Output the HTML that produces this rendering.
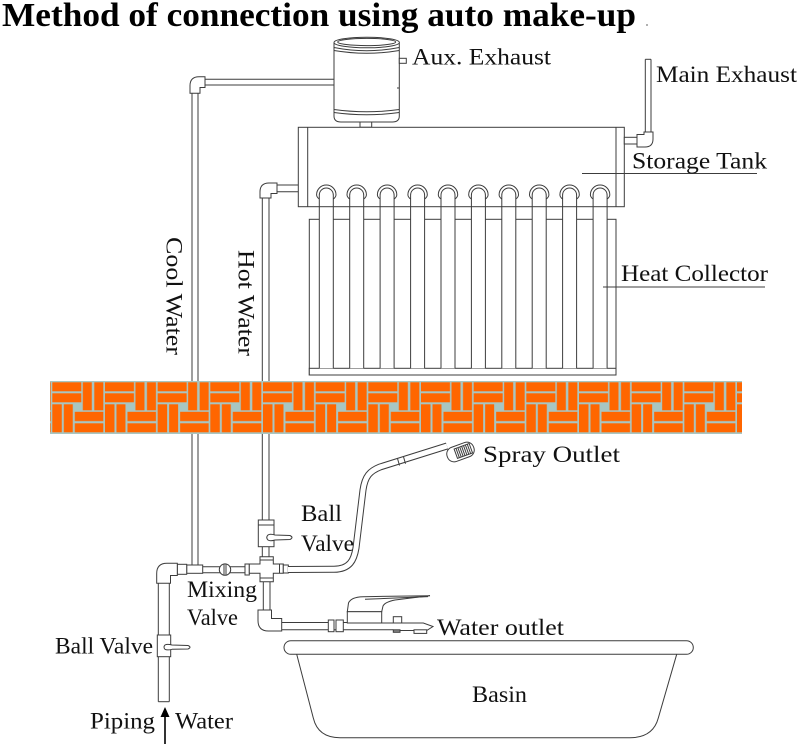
<!DOCTYPE html>
<html><head><meta charset="utf-8">
<style>
html,body{margin:0;padding:0;background:#fff}
svg{display:block}
text{font-family:"Liberation Serif","DejaVu Serif",serif;}
</style>
</head>
<body>
<svg width="800" height="745" viewBox="0 0 800 745" xmlns="http://www.w3.org/2000/svg">
<defs>
<pattern id="bricks" patternUnits="userSpaceOnUse" x="52.3" y="382.3" width="52.67" height="60">
<g fill="#ff6600">
<rect x="0" y="0" width="29" height="9"/>
<rect x="0" y="11" width="29" height="9"/>
<rect x="30.5" y="0" width="9" height="28"/>
<rect x="42" y="0" width="9" height="28"/>
<rect x="0" y="22" width="9.5" height="28"/>
<rect x="11.5" y="22" width="9" height="28"/>
<rect x="22.5" y="29.5" width="28.5" height="9.3"/>
<rect x="22.5" y="41" width="28.5" height="9"/>
</g>
</pattern>
<g id="tube">
<rect x="0" y="208" width="14" height="160.3" fill="#fff" stroke="none"/>
<line x1="0" y1="194.7" x2="0" y2="368.3"/>
<line x1="14" y1="194.7" x2="14" y2="368.3"/>
<path d="M0,195 A7,7 0 0 1 14,195" fill="none"/>
<path d="M0,199 Q-2.7,197 -2.7,194.7 A9.7,9.7 0 0 1 16.7,194.7 Q16.7,197 14,199" fill="none"/>
</g>
</defs>
<rect width="800" height="745" fill="#fff"/>

<!-- Title -->
<text x="2" y="26" style="font-family:'Liberation Serif','DejaVu Serif',serif;font-weight:bold;font-size:34px" fill="#000" textLength="634" lengthAdjust="spacingAndGlyphs">Method of connection using auto make-up</text>
<circle cx="647" cy="25" r="1" fill="#999"/>

<g stroke="#3c3c3c" stroke-width="1" fill="none">
<!-- Aux tank -->
<path d="M334,43 L334,116 Q334,122 341,122 L392.3,122 Q399.3,122 399.3,116 L399.3,43" fill="#fff"/>
<ellipse cx="366.7" cy="42.5" rx="32.7" ry="5.3" fill="#fff"/>
<ellipse cx="366.7" cy="42" rx="29" ry="3.6"/>
<path d="M334,47.5 Q366.7,54 399.3,47.5"/>
<path d="M334,50.5 Q366.7,56 399.3,50.5"/>
<path d="M334,109.5 Q366.7,114 399.3,109.5"/>
<path d="M334,112.5 Q366.7,117 399.3,112.5"/>
<rect x="360" y="122" width="11.7" height="5.3" fill="#fff"/>
<rect x="399.3" y="58.3" width="7" height="5" fill="#fff"/>
<line x1="397" y1="88" x2="399" y2="88"/>

<!-- Cool water top pipe -->
<line x1="205" y1="79.3" x2="334" y2="79.3"/>
<line x1="205" y1="85" x2="334" y2="85"/>
<path d="M205,76.7 L199,76.7 Q190,76.7 190,85.7 L190,93.3 L200,93.3 L200,87.5 L205,87.5 Z" fill="#fff"/>
<line x1="192" y1="93.3" x2="192" y2="565"/>
<line x1="198" y1="93.3" x2="198" y2="565"/>

<!-- Storage tank -->
<rect x="298.3" y="127.3" width="326" height="79.4" fill="#fff"/>
<line x1="307.7" y1="127.3" x2="307.7" y2="206.7"/>
<line x1="616" y1="127.3" x2="616" y2="206.7"/>

<!-- Hot water -->
<line x1="277" y1="185" x2="298.3" y2="185"/>
<line x1="277" y1="191.7" x2="298.3" y2="191.7"/>
<path d="M277,183 L269,183 Q260,183 260,192 L260,198 L271,198 L271,193.5 L277,193.5 Z" fill="#fff"/>
<line x1="262.3" y1="198" x2="262.3" y2="520"/>
<line x1="269" y1="198" x2="269" y2="520"/>

<!-- Main exhaust -->
<rect x="624.3" y="137.3" width="12.7" height="6.7" fill="#fff"/>
<path d="M637,134.5 L644,134.5 L644,132 L653,132 L653,139 Q653,147 645,147 L637,147 Z" fill="#fff"/>
<line x1="645.3" y1="59.3" x2="645.3" y2="132"/>
<line x1="651" y1="59.3" x2="651" y2="132"/>
<line x1="645.3" y1="59.3" x2="651" y2="59.3"/>

<!-- Heat collector -->
<rect x="309.3" y="219.3" width="306.7" height="155.7" fill="#fff"/>
<rect x="309.3" y="368.3" width="306.7" height="6.7" fill="#fff"/>
<use href="#tube" x="319.3"/>
<use href="#tube" x="349.7"/>
<use href="#tube" x="380.1"/>
<use href="#tube" x="410.6"/>
<use href="#tube" x="441.0"/>
<use href="#tube" x="471.4"/>
<use href="#tube" x="501.8"/>
<use href="#tube" x="532.2"/>
<use href="#tube" x="562.6"/>
<use href="#tube" x="593.1"/>

<!-- Label underlines -->
<line x1="582" y1="173.5" x2="757" y2="173.5"/>
<line x1="603" y1="287" x2="765" y2="287"/>

<!-- Lower pipes: cool water -->
<rect x="186.7" y="565" width="16" height="8.3" fill="#fff"/>
<line x1="202.7" y1="566.7" x2="245" y2="566.7"/>
<line x1="202.7" y1="572.7" x2="245" y2="572.7"/>
<rect x="177.3" y="564.3" width="9.4" height="10" fill="#fff"/>
<path d="M177.3,563.3 L167,563.3 Q156.7,563.3 156.7,573.6 L156.7,583.3 L170.5,583.3 L170.5,575.5 L177.3,575.5 Z" fill="#fff"/>
<circle cx="225" cy="569.6" r="5.7" fill="#fff"/>
<line x1="224" y1="564" x2="224" y2="575.2"/>
<line x1="226" y1="564" x2="226" y2="575.2"/>
<rect x="245" y="564" width="4.3" height="11" fill="#fff"/>
<!-- lower-left vertical + valve -->
<line x1="158.3" y1="583.3" x2="158.3" y2="701.7"/>
<line x1="169.3" y1="583.3" x2="169.3" y2="701.7"/>
<line x1="158.3" y1="701.7" x2="169.3" y2="701.7"/>
<rect x="157.3" y="635" width="13.4" height="21.7" fill="#fff"/>
<path d="M165,645 Q167,643.8 172,645 L188,645.5 Q192,647.2 188,649 L172,649.3 Q167,650.5 165,649.3 Q163,647.2 165,645 Z" fill="#fff"/>

<!-- Upper ball valve and cross -->
<rect x="258.3" y="520" width="15.7" height="26.7" fill="#fff"/>
<line x1="258.3" y1="525" x2="274" y2="525"/>
<path d="M268,535 Q270,533.5 275,535 L290,535.5 Q294,537.5 290,539.5 L275,540 Q270,541.5 268,540 Q265.5,537.5 268,535 Z" fill="#fff"/>
<line x1="262.3" y1="546.7" x2="262.3" y2="556.7"/>
<line x1="269" y1="546.7" x2="269" y2="556.7"/>
<path d="M260,556.7 H273.3 V564 H283.3 V573.3 H273.3 V581.7 H260 V573.3 H249.3 V564 H260 Z" fill="#fff"/>
<line x1="260" y1="560" x2="273.3" y2="560"/>
<line x1="279.5" y1="564" x2="279.5" y2="573.3"/>
<line x1="260" y1="578" x2="273.3" y2="578"/>
<rect x="283.3" y="565" width="5" height="8" fill="#fff"/>
<line x1="263.3" y1="581.7" x2="263.3" y2="610"/>
<line x1="270" y1="581.7" x2="270" y2="610"/>
<path d="M258,610 L271.5,610 L271.5,618.5 L281.7,618.5 L281.7,631 L268.5,631 Q258,631 258,620.5 Z" fill="#fff"/>
<line x1="281.7" y1="622.5" x2="328.3" y2="622.5"/>
<line x1="281.7" y1="629.8" x2="393.3" y2="629.8"/>
<rect x="328.3" y="620" width="5.7" height="11.7" fill="#fff"/>
<rect x="336" y="620" width="7.3" height="11.7" fill="#fff"/>
<line x1="343.3" y1="622.5" x2="347.3" y2="622.5"/>

<!-- Faucet -->
<path d="M347.3,611.7 L348.5,603 Q351,597 363,596.7 L430,595.7 Q410,598 395,600 Q385,602 383,606 L381.7,611.7 Z" fill="#fff"/>
<line x1="365" y1="599.3" x2="428" y2="596.6"/>
<rect x="347.3" y="611.7" width="34.4" height="11.3" fill="#fff"/>
<path d="M381.7,623 L423.3,623 L433,626.5 L426.7,630.5 L400,630.5"/>
<rect x="393.3" y="616.7" width="8.4" height="6.3" fill="#fff"/>
<rect x="393.3" y="629.8" width="6.7" height="2.5" fill="#888"/>
<rect x="414" y="629.8" width="12.7" height="3.6" fill="#fff"/>
</g>

<!-- Spray hose -->
<path d="M288,569.5 L334,569.3 C350,569 354,560 356,548 L363,490 C365,476 370,471 380,467 L447,446" fill="none" stroke="#3c3c3c" stroke-width="7"/>
<path d="M288,569.5 L334,569.3 C350,569 354,560 356,548 L363,490 C365,476 370,471 380,467 L447,446" fill="none" stroke="#fff" stroke-width="5"/>
<g stroke="#3c3c3c" stroke-width="1" fill="none">
<line x1="397.5" y1="458.5" x2="399.5" y2="465.5"/>
<line x1="403.5" y1="456.7" x2="405.5" y2="463.7"/>
<g transform="translate(460.5,452) rotate(-20)">
<rect x="-14" y="-7.5" width="28" height="15" rx="7" fill="#fff"/>
<rect x="-5" y="-5" width="16" height="10" fill="#fff"/>
<line x1="-3" y1="-5" x2="-3" y2="5"/>
<line x1="-1" y1="-5" x2="-1" y2="5"/>
<line x1="1" y1="-5" x2="1" y2="5"/>
<line x1="3" y1="-5" x2="3" y2="5"/>
<line x1="5" y1="-5" x2="5" y2="5"/>
<line x1="7" y1="-5" x2="7" y2="5"/>
<line x1="9" y1="-5" x2="9" y2="5"/>
</g>
</g>

<!-- Basin -->
<g stroke="#3c3c3c" stroke-width="1" fill="#fff">
<path d="M296.7,654.3 L313.3,718 Q318,737.7 340,737.7 L630,737.7 Q653,737.7 658.3,718 L676.7,654.3"/>
<rect x="284" y="640.7" width="409.3" height="13.6" rx="6.8"/>
</g>

<!-- Brick wall -->
<rect x="50" y="381" width="692" height="53" fill="#a8c6c2"/>
<rect x="50" y="381" width="692" height="53" fill="url(#bricks)"/>

<!-- Arrow -->
<line x1="165" y1="744" x2="165" y2="714" stroke="#000" stroke-width="1.6"/>
<polygon points="165,707 160.5,717 169.5,717" fill="#000"/>

<!-- Labels -->
<g style="font-family:'Liberation Serif','DejaVu Serif',serif;font-size:23px" fill="#111">
<text x="412" y="64.5" textLength="139" lengthAdjust="spacingAndGlyphs">Aux. Exhaust</text>
<text x="656" y="82" textLength="141" lengthAdjust="spacingAndGlyphs">Main Exhaust</text>
<text x="632" y="168.5" textLength="135" lengthAdjust="spacingAndGlyphs">Storage Tank</text>
<text x="621" y="281" textLength="147" lengthAdjust="spacingAndGlyphs">Heat Collector</text>
<text transform="translate(166.5,237) rotate(90)" textLength="118" lengthAdjust="spacingAndGlyphs">Cool Water</text>
<text transform="translate(238.5,250) rotate(90)" textLength="106" lengthAdjust="spacingAndGlyphs">Hot Water</text>
<text x="483" y="462" textLength="137" lengthAdjust="spacingAndGlyphs">Spray Outlet</text>
<text x="301" y="521" textLength="41" lengthAdjust="spacingAndGlyphs">Ball</text>
<text x="301" y="551" textLength="53" lengthAdjust="spacingAndGlyphs">Valve</text>
<text x="187" y="597" textLength="70" lengthAdjust="spacingAndGlyphs">Mixing</text>
<text x="187" y="625" textLength="51" lengthAdjust="spacingAndGlyphs">Valve</text>
<text x="437" y="635" textLength="127" lengthAdjust="spacingAndGlyphs">Water outlet</text>
<text x="55" y="653.5" textLength="98" lengthAdjust="spacingAndGlyphs">Ball Valve</text>
<text x="472" y="702" textLength="55" lengthAdjust="spacingAndGlyphs">Basin</text>
<text x="90" y="728.5" textLength="65" lengthAdjust="spacingAndGlyphs">Piping</text>
<text x="175" y="728.5" textLength="58" lengthAdjust="spacingAndGlyphs">Water</text>
</g>
</svg>
</body></html>
